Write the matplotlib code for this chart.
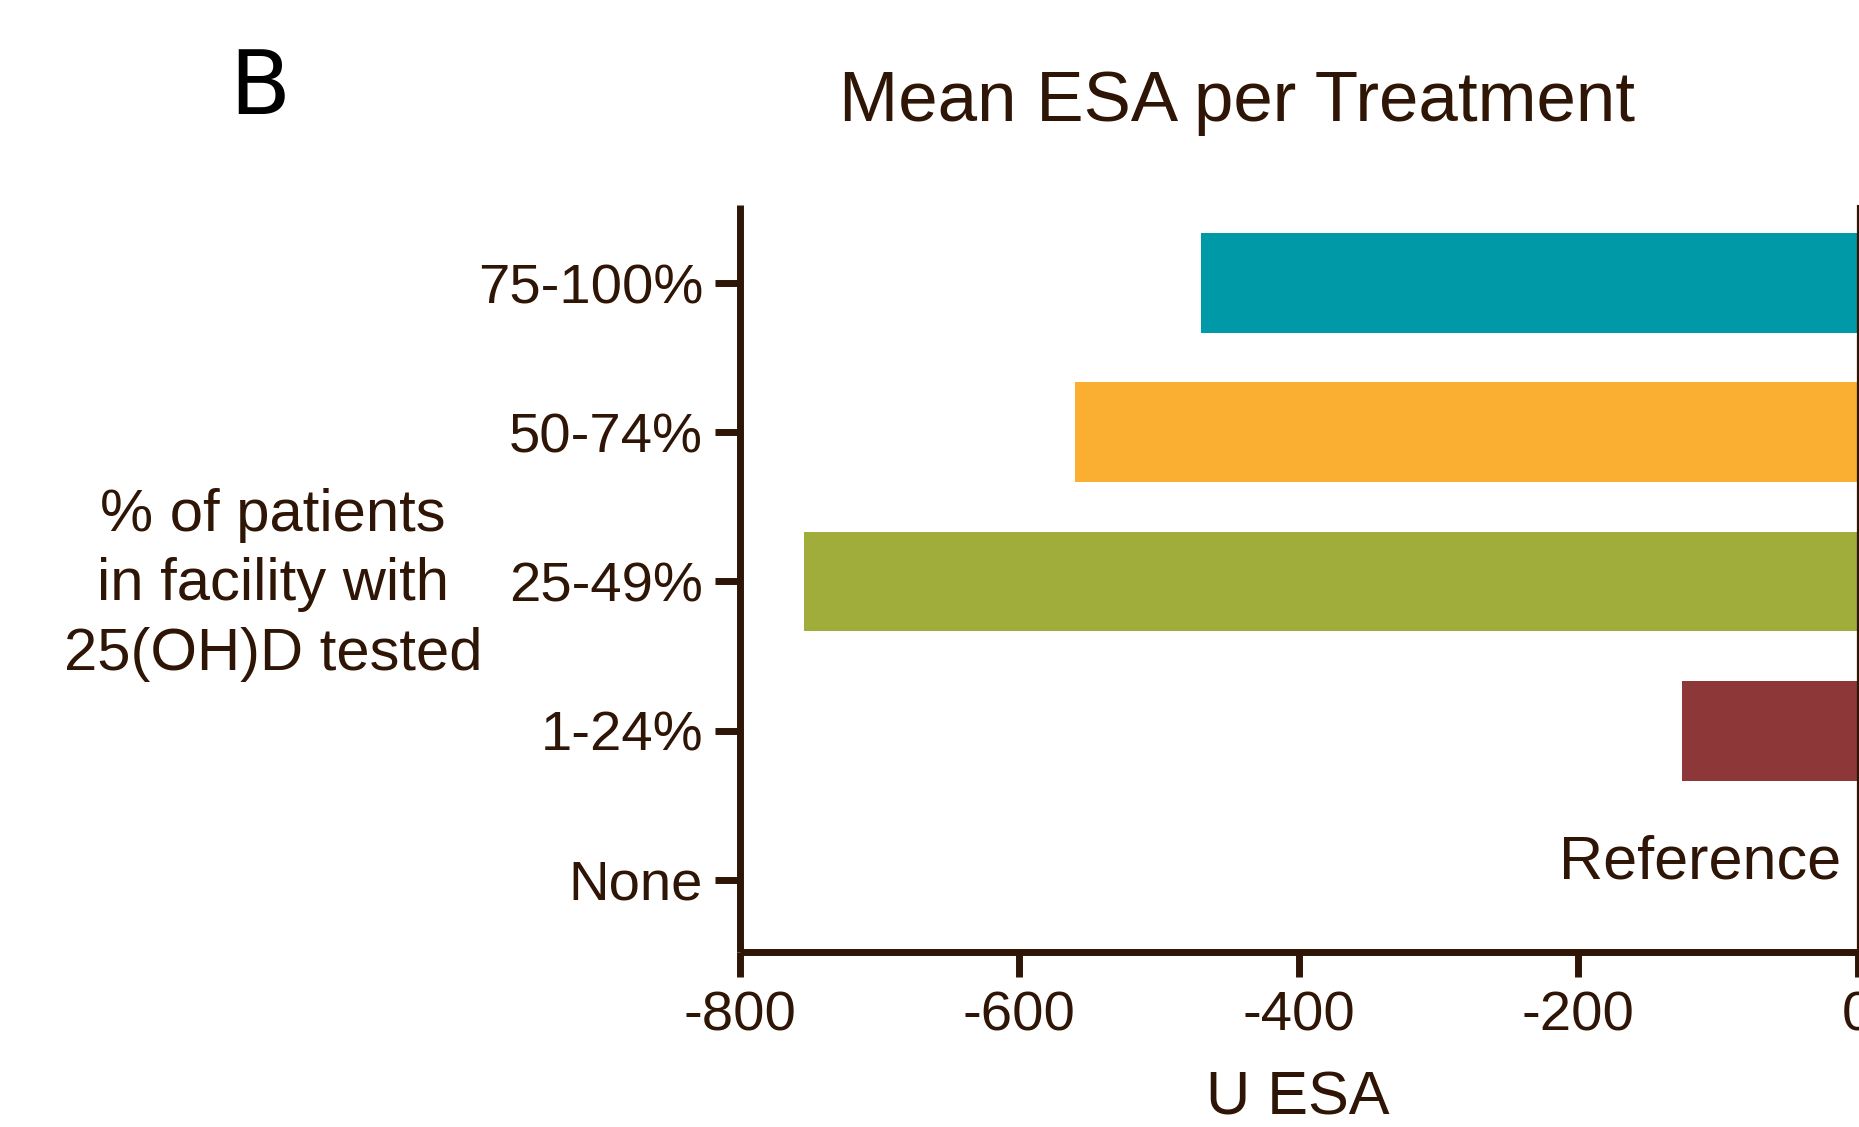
import matplotlib
matplotlib.use("Agg")
import matplotlib.pyplot as plt

categories = ["None", "1-24%", "25-49%", "50-74%", "75-100%"]
values = [0, -126, -754, -560, -470]
colors = ["#FFFFFF", "#8E3739", "#A0AD3A", "#FAAF33", "#0099A8"]
xticks = [-800, -600, -400, -200, 0]

brown = "#2E1505"
plt.rcParams['font.family'] = ['Liberation Sans', 'DejaVu Sans']

fig = plt.figure(figsize=(18.59, 11.27), dpi=100)
ax = fig.add_axes([740/1859, 1-952/1127, 1-740/1859, (952-205)/1127])

ypos = list(range(len(categories)))
for y, v, c in zip(ypos, values, colors):
    if v != 0:
        ax.barh(y, v, height=0.67, color=c, edgecolor='none', zorder=2)

ax.set_xlim(-800, 0.93)
ax.set_ylim(-0.485, 4.525)
ax.axvline(0, color=brown, lw=1.6, zorder=3)

ax.set_yticks(ypos)
ax.set_yticklabels(categories)
ax.set_xticks(xticks)
ax.set_xticklabels([str(t) for t in xticks])

for s in ['top', 'right']:
    ax.spines[s].set_visible(False)
for s in ['left', 'bottom']:
    ax.spines[s].set_linewidth(5)
    ax.spines[s].set_color(brown)
    ax.spines[s].set_capstyle('butt')

ax.tick_params(axis='both', length=18, width=5, color=brown, labelcolor=brown,
               labelsize=40.5)
ax.tick_params(axis='y', pad=8.5)
ax.tick_params(axis='x', pad=10)

ax.text(-12, 0.11, "Reference", ha='right', va='center', fontsize=44, color=brown)

fig.text(1237/1859, 1-103/1127, "Mean ESA per Treatment", ha='center', va='center',
         fontsize=51, color=brown)
fig.text(260/1859, 1-90/1127, "B", ha='center', va='center', fontsize=64,
         color='black', family='DejaVu Sans')
fig.text(1298/1859, 1-1099/1127, "U ESA", ha='center', va='center', fontsize=44, color=brown)
fig.text(273/1859, 1-585/1127, "% of patients\nin facility with\n25(OH)D tested",
         ha='center', va='center', fontsize=43, color=brown, linespacing=1.33)

fig.savefig("out.png", dpi=100)
